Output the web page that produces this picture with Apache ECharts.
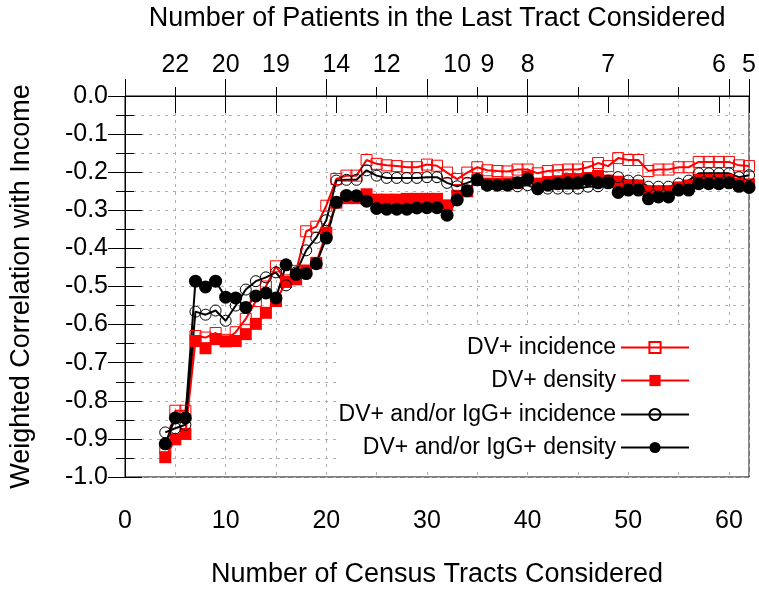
<!DOCTYPE html>
<html><head><meta charset="utf-8">
<script src="https://cdn.jsdelivr.net/npm/echarts@6/dist/echarts.min.js"></script>
<style>html,body{margin:0;padding:0;background:#fff}#c{width:759px;height:593px}</style>
</head><body><div id="c"></div>
<script>
const tracts = [4,5,6,7,8,9,10,11,12,13,14,15,16,17,18,19,20,21,22,23,24,25,26,27,28,29,30,31,32,33,34,35,36,37,38,39,40,41,42,43,44,45,46,47,48,49,50,51,52,53,54,55,56,57,58,59,60,61,62];
const dvIncidence = [-0.924,-0.826,-0.826,-0.630,-0.634,-0.622,-0.640,-0.620,-0.585,-0.538,-0.500,-0.447,-0.484,-0.459,-0.355,-0.343,-0.288,-0.218,-0.209,-0.209,-0.168,-0.178,-0.182,-0.184,-0.187,-0.187,-0.180,-0.183,-0.201,-0.218,-0.201,-0.187,-0.195,-0.197,-0.198,-0.193,-0.193,-0.203,-0.197,-0.195,-0.193,-0.193,-0.187,-0.176,-0.184,-0.163,-0.168,-0.168,-0.197,-0.193,-0.193,-0.187,-0.187,-0.173,-0.173,-0.173,-0.173,-0.182,-0.184];
const dvDensity = [-0.948,-0.901,-0.887,-0.643,-0.662,-0.638,-0.644,-0.643,-0.625,-0.598,-0.569,-0.538,-0.488,-0.481,-0.458,-0.438,-0.359,-0.280,-0.268,-0.268,-0.258,-0.272,-0.272,-0.272,-0.270,-0.270,-0.270,-0.270,-0.287,-0.262,-0.250,-0.220,-0.230,-0.230,-0.230,-0.228,-0.212,-0.230,-0.228,-0.225,-0.218,-0.218,-0.215,-0.210,-0.222,-0.225,-0.235,-0.235,-0.250,-0.250,-0.250,-0.240,-0.235,-0.220,-0.220,-0.220,-0.220,-0.230,-0.232];
const anyIncidence = [-0.883,-0.872,-0.863,-0.566,-0.574,-0.563,-0.590,-0.550,-0.508,-0.486,-0.476,-0.463,-0.497,-0.463,-0.405,-0.372,-0.326,-0.222,-0.220,-0.220,-0.195,-0.209,-0.215,-0.215,-0.215,-0.215,-0.213,-0.213,-0.228,-0.237,-0.228,-0.218,-0.234,-0.234,-0.234,-0.237,-0.234,-0.245,-0.243,-0.243,-0.243,-0.243,-0.238,-0.237,-0.222,-0.213,-0.222,-0.222,-0.238,-0.238,-0.238,-0.230,-0.222,-0.203,-0.203,-0.203,-0.203,-0.213,-0.208];
const anyDensity = [-0.913,-0.845,-0.845,-0.486,-0.501,-0.486,-0.528,-0.530,-0.555,-0.525,-0.517,-0.530,-0.443,-0.468,-0.466,-0.440,-0.373,-0.279,-0.261,-0.262,-0.276,-0.295,-0.297,-0.297,-0.297,-0.294,-0.293,-0.293,-0.313,-0.273,-0.249,-0.220,-0.234,-0.234,-0.234,-0.228,-0.218,-0.243,-0.234,-0.230,-0.228,-0.228,-0.220,-0.228,-0.228,-0.253,-0.247,-0.247,-0.270,-0.265,-0.265,-0.247,-0.247,-0.230,-0.230,-0.230,-0.228,-0.237,-0.240];
const topTickPos = [5,10,15,21,26,33,36,40,48,59,62];
const topTickLabels = ['22','20','19','14','12','10','9','8','7','6','5'];
const seriesNames = ['DV+ incidence','DV+ density','DV+ and/or IgG+ incidence','DV+ and/or IgG+ density'];

const FONT = 'Liberation Sans, Arial, Helvetica, sans-serif';
const pairs = arr => tracts.map((x, i) => [x, arr[i]]);
const gridDash = {color: '#b0b0b0', type: [3, 5], width: 1};
const chart = echarts.init(document.getElementById('c'), null, {renderer: 'canvas'});

const legendCenters = [348, 381, 415, 448];
const legends = seriesNames.map((n, i) => ({
  data: [n], right: 69, top: legendCenters[i] - 12, orient: 'vertical', align: 'right',
  itemWidth: 68, itemHeight: 14, padding: 0, selectedMode: false,
  textStyle: {fontSize: 23, fontFamily: FONT, color: '#000'}
}));

chart.setOption({
  animation: false,
  backgroundColor: '#fff',
  grid: {left: 119, right: 7, top: 88, bottom: 105, show: true, borderColor: '#000', borderWidth: 1, containLabel: false},
  graphic: [{type: 'rect', shape: {x: 338, y: 328, width: 410, height: 140}, style: {fill: '#fff'}, z: 3, silent: true}],
  legend: legends,
  xAxis: [{
    type: 'value', position: 'bottom', min: 0, max: 62, interval: 10,
    name: 'Number of Census Tracts Considered', nameLocation: 'middle', nameGap: 84,
    nameTextStyle: {fontSize: 27, fontFamily: FONT, color: '#000'},
    axisLine: {show: true, lineStyle: {color: '#000', width: 1}},
    axisTick: {show: true, inside: true, length: 17, lineStyle: {color: '#000', width: 1}},
    minorTick: {show: true, splitNumber: 2, length: 9, lineStyle: {color: '#000', width: 1}},
    axisLabel: {fontSize: 25, fontFamily: FONT, color: '#000', margin: 32, showMaxLabel: false},
    splitLine: {show: true, lineStyle: gridDash},
    minorSplitLine: {show: true, lineStyle: gridDash}
  }, {
    type: 'value', position: 'top', min: 0, max: 62,
    name: 'Number of Patients in the Last Tract Considered', nameLocation: 'middle', nameGap: 64,
    nameTextStyle: {fontSize: 27, fontFamily: FONT, color: '#000'},
    axisLine: {show: true, lineStyle: {color: '#000', width: 1}},
    axisTick: {show: true, inside: true, length: 17, customValues: topTickPos, lineStyle: {color: '#000', width: 1}},
    axisLabel: {fontSize: 25, fontFamily: FONT, color: '#000', margin: 18, customValues: topTickPos,
      formatter: v => topTickLabels[topTickPos.indexOf(v)]},
    splitLine: {show: false}
  }],
  yAxis: [{
    type: 'value', position: 'left', min: -1, max: 0, interval: 0.1,
    name: 'Weighted Correlation with Income', nameLocation: 'middle', nameGap: 90, nameRotate: 90,
    nameTextStyle: {fontSize: 27, fontFamily: FONT, color: '#000'},
    axisLine: {show: true, lineStyle: {color: '#000', width: 1}},
    axisTick: {show: true, inside: true, length: 17, lineStyle: {color: '#000', width: 1}},
    minorTick: {show: true, splitNumber: 2, length: 9, lineStyle: {color: '#000', width: 1}},
    axisLabel: {fontSize: 25, fontFamily: FONT, color: '#000', margin: 17, formatter: v => v.toFixed(1)},
    splitLine: {show: true, lineStyle: gridDash},
    minorSplitLine: {show: true, lineStyle: gridDash}
  }, {
    type: 'value', position: 'right', min: -1, max: 0, interval: 0.1,
    axisLine: {show: true, lineStyle: {color: '#000', width: 1}},
    axisTick: {show: true, inside: true, length: 17, lineStyle: {color: '#000', width: 1}},
    minorTick: {show: true, splitNumber: 2, length: 9, lineStyle: {color: '#000', width: 1}},
    axisLabel: {show: false},
    splitLine: {show: false}
  }],
  series: [{
    name: seriesNames[0], type: 'line', data: pairs(dvIncidence), xAxisIndex: 0, yAxisIndex: 0,
    symbol: 'rect', symbolSize: 11, showAllSymbol: true,
    lineStyle: {color: '#ff0000', width: 2},
    itemStyle: {color: 'rgba(255,255,255,0)', borderColor: '#ff0000', borderWidth: 1}
  }, {
    name: seriesNames[1], type: 'line', data: pairs(dvDensity),
    symbol: 'rect', symbolSize: 12, showAllSymbol: true,
    lineStyle: {color: '#ff0000', width: 2},
    itemStyle: {color: '#ff0000', borderWidth: 0}
  }, {
    name: seriesNames[2], type: 'line', data: pairs(anyIncidence),
    symbol: 'circle', symbolSize: 11, showAllSymbol: true,
    lineStyle: {color: '#000', width: 2},
    itemStyle: {color: 'rgba(255,255,255,0)', borderColor: '#000', borderWidth: 1}
  }, {
    name: seriesNames[3], type: 'line', data: pairs(anyDensity),
    symbol: 'circle', symbolSize: 13, showAllSymbol: true,
    lineStyle: {color: '#000', width: 2},
    itemStyle: {color: '#000', borderWidth: 0}
  }]
});
</script>
</body></html>
